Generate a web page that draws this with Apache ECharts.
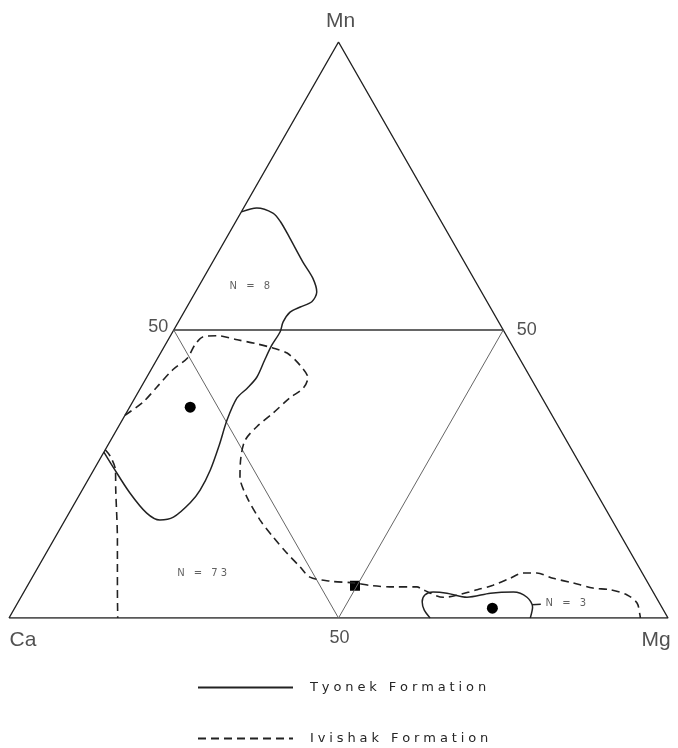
<!DOCTYPE html>
<html>
<head>
<meta charset="utf-8">
<script src="https://cdn.jsdelivr.net/npm/echarts@6/dist/echarts.min.js"></script>
<style>
  html, body { margin: 0; padding: 0; background: #fff; }
  #chart { width: 678px; height: 748px; }
</style>
</head>
<body>
<div id="chart"></div>
<script>
// Ternary Ca–Mg–Mn diagram. Every composition is [Mg %, Mn %]; Ca is the balance.

// Corners of the diagram
const cornerCa = [0, 0];
const cornerMg = [100, 0];
const cornerMn = [0, 100];

// 50 % grid points on each side
const mid50CaMn = [0, 50];
const mid50MgMn = [50, 50];
const mid50CaMg = [50, 0];

// Tyonek Formation field (N = 8), running from the Ca–Mn side back to it
const tyonekField = [
  [0, 70.5], [2.0, 71.2], [4.9, 70.3], [6.8, 68.8], [9.6, 66.0], [13.7, 61.8],
  [16.6, 59.0], [18.4, 56.6], [18.5, 54.9], [17.2, 54.0], [16.1, 53.1], [15.9, 51.4],
  [16.3, 49.7], [16.2, 47.4], [16.4, 44.8], [16.7, 41.8], [16.2, 39.9], [15.5, 38.2],
  [15.9, 34.4], [16.9, 30.0], [17.7, 25.7], [17.9, 22.2], [17.5, 20.0], [16.2, 17.5],
  [14.4, 17.0], [11.8, 18.2], [7.5, 21.7], [2.7, 26.2], [0, 28.8]
];

// Tyonek Formation field (N = 3) near the Mg corner
const tyonekMgField = [
  [63.9, 0], [62.3, 1.4], [61.3, 2.8], [61.1, 4.0], [62.1, 4.5], [64.3, 4.3],
  [67.7, 3.6], [70.9, 4.3], [74.3, 4.5], [76.8, 3.6], [78.5, 1.9], [79.1, 0]
];
const tyonekMgLeader = [[78.2, 2.3], [79.5, 2.4]];

// Ivishak Formation field (N = 73): outer boundary and the Ca-side closure
const ivishakField = [
  [0, 35.2], [1.6, 37.5], [2.4, 40.1], [3.3, 43.1], [4.5, 45.1], [4.5, 47.4],
  [5.0, 48.8], [7.1, 49.0], [10.5, 48.3], [13.8, 47.6], [16.5, 46.9], [19.2, 46.0],
  [22.2, 43.9], [24.5, 41.7], [24.7, 39.9], [23.5, 38.2], [22.3, 35.6], [21.0, 33.2],
  [20.4, 30.9], [21.2, 28.0], [22.8, 24.5], [25.6, 21.0], [29.6, 17.0], [33.0, 14.1],
  [36.5, 11.3], [39.7, 8.9], [42.1, 7.1], [45.5, 6.4], [49.2, 6.1], [52.4, 5.6],
  [55.6, 5.4], [59.2, 5.4], [60.4, 4.9], [64.1, 3.6], [68.6, 4.9], [70.6, 5.7],
  [72.6, 6.9], [74.1, 7.8], [76.2, 7.8], [79.1, 6.9], [82.5, 6.1], [86.0, 5.2],
  [88.8, 4.9], [91.8, 4.0], [94.0, 2.6], [95.5, 0.5], [95.8, 0]
];
const ivishakCaSide = [
  [0, 29.2], [1.3, 28.1], [3.3, 25.7], [5.1, 22.2], [9.7, 13.5], [14.0, 4.9], [16.5, 0]
];

// Mean compositions
const meanCircles = [[9.2, 36.6], [72.5, 1.7]];
const meanSquares = [[49.7, 5.6]];

// Sample counts and where they sit
const countLabels = ['N = 8', 'N = 73', 'N = 3'];
const countPositions = [[7.8, 57.5], [25.4, 7.8], [83.2, 2.6]];

const seriesNames = ['Tyonek Formation', 'Ivishak Formation'];

// [Mg, Mn] -> plot coordinates (x along Ca–Mg base, y = Mn)
function toXY(p) { return [p[0] + p[1] / 2, p[1]]; }
const GAP = ['-', '-'];
function joinPieces(pieces) {
  const out = [];
  pieces.forEach((piece, i) => {
    if (i > 0) out.push(GAP);
    piece.forEach(p => out.push(toXY(p)));
  });
  return out;
}
// Open tracking for the small lettering
function spaced(s) { return s.split('').join('\u2009\u200a'); }

const ink = '#222';
const textColor = '#262626';

const chart = echarts.init(document.getElementById('chart'), null, { renderer: 'canvas' });

chart.setOption({
  backgroundColor: '#fff',
  animation: false,
  grid: { left: 9, top: 42, width: 659, height: 576 },
  xAxis: { type: 'value', min: 0, max: 100, show: false },
  yAxis: { type: 'value', min: 0, max: 100, show: false },
  legend: {
    data: seriesNames,
    orient: 'vertical',
    left: 197,
    top: 681,
    padding: 0,
    itemWidth: 95,
    itemHeight: 14,
    itemGap: 38,
    selectedMode: false,
    itemStyle: { opacity: 0, borderWidth: 0 },
    lineStyle: { opacity: 1 },
    textStyle: { fontFamily: 'DejaVu Sans', fontSize: 13, color: textColor, padding: [0, 0, 0, 12] },
    formatter: name => spaced(name)
  },
  series: [
    {
      name: 'frame',
      type: 'line',
      silent: true,
      symbol: 'none',
      data: [cornerCa, cornerMg, cornerMn, cornerCa].map(toXY),
      lineStyle: { color: ink, width: 1.4 }
    },
    {
      name: 'grid50-level',
      type: 'line',
      silent: true,
      symbol: 'none',
      data: [mid50CaMn, mid50MgMn].map(toXY),
      lineStyle: { color: '#333', width: 1.3 }
    },
    {
      name: 'grid50-sides',
      type: 'line',
      silent: true,
      symbol: 'none',
      data: [mid50CaMn, mid50CaMg, mid50MgMn].map(toXY),
      lineStyle: { color: '#666', width: 1 }
    },
    {
      name: seriesNames[0],
      type: 'line',
      symbol: 'none',
      smooth: 0.3,
      connectNulls: false,
      data: joinPieces([tyonekField, tyonekMgField, tyonekMgLeader]),
      lineStyle: { color: ink, width: 1.5, type: 'solid' },
      itemStyle: { color: ink }
    },
    {
      name: seriesNames[1],
      type: 'line',
      symbol: 'none',
      smooth: 0.3,
      connectNulls: false,
      data: joinPieces([ivishakField, ivishakCaSide]),
      lineStyle: { color: ink, width: 1.6, type: [8, 5] },
      itemStyle: { color: ink }
    },
    {
      name: 'means',
      type: 'scatter',
      silent: true,
      symbol: 'circle',
      symbolSize: 11,
      data: meanCircles.map(toXY),
      itemStyle: { color: '#000', opacity: 1 }
    },
    {
      name: 'means-square',
      type: 'scatter',
      silent: true,
      symbol: 'rect',
      symbolSize: 10,
      data: meanSquares.map(toXY),
      itemStyle: { color: '#000', opacity: 1 }
    },
    {
      name: 'counts',
      type: 'scatter',
      silent: true,
      symbolSize: 1,
      itemStyle: { color: 'rgba(0,0,0,0)' },
      data: countPositions.map((p, i) => ({ value: toXY(p), name: countLabels[i] })),
      label: {
        show: true,
        position: 'inside',
        formatter: d => spaced(d.name),
        fontFamily: 'DejaVu Sans',
        fontSize: 10,
        color: '#3a3a3a'
      }
    },
    {
      name: 'corner-labels',
      type: 'scatter',
      silent: true,
      symbolSize: 1,
      itemStyle: { color: 'rgba(0,0,0,0)' },
      label: { show: true, fontFamily: 'Liberation Sans', color: textColor },
      data: [
        { value: toXY(cornerMn), name: 'Mn', label: { position: 'top', distance: 10, fontSize: 21, offset: [2, 0] } },
        { value: toXY(cornerCa), name: 'Ca', label: { position: 'bottom', distance: 11, fontSize: 21, offset: [14, 0] } },
        { value: toXY(cornerMg), name: 'Mg', label: { position: 'bottom', distance: 11, fontSize: 21, offset: [-12, 0] } },
        { value: toXY(mid50CaMn), name: '50', label: { position: 'left', distance: 5, fontSize: 18, offset: [0, -3] } },
        { value: toXY(mid50MgMn), name: '50', label: { position: 'right', distance: 13, fontSize: 18 } },
        { value: toXY(mid50CaMg), name: '50', label: { position: 'bottom', distance: 11, fontSize: 18, offset: [1, 0] } }
      ].map(d => Object.assign(d, { label: Object.assign({ formatter: '{b}' }, d.label) }))
    }
  ]
});
</script>
</body>
</html>
